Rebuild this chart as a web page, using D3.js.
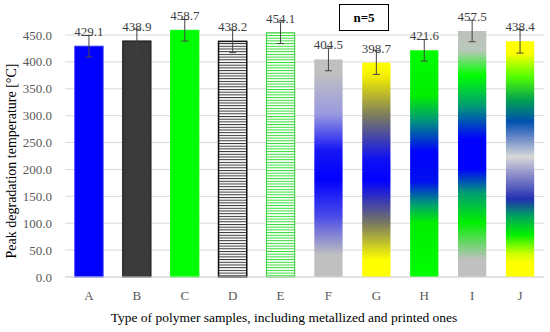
<!DOCTYPE html>
<html>
<head>
<meta charset="utf-8">
<script src="https://cdn.jsdelivr.net/npm/d3@7"></script>
<style>
  body { margin: 0; background: #fff; }
  svg { font-family: "Liberation Serif", "Times New Roman", serif; }
</style>
</head>
<body>
<div id="chart"></div>
<script>
var categories = ["A", "B", "C", "D", "E", "F", "G", "H", "I", "J"];
var values = [429.1, 438.9, 458.7, 438.2, 454.1, 404.5, 398.7, 421.6, 457.5, 438.4];
var errors = [20, 22, 20, 21, 20, 21, 22, 20, 20, 22];
var yTicks = [0, 50, 100, 150, 200, 250, 300, 350, 400, 450];

var margin = { top: 35, right: 6, bottom: 55, left: 65 },
    width = 550 - margin.left - margin.right,
    height = 332 - margin.top - margin.bottom;

var svg = d3.select("#chart")
    .append("svg")
    .attr("width", 550)
    .attr("height", 332);

var defs = svg.append("defs");

// horizontal stripes for D and E
function stripes(id, color, bg) {
    var p = defs.append("pattern")
        .attr("id", id)
        .attr("patternUnits", "userSpaceOnUse")
        .attr("width", 6)
        .attr("height", 2.7);
    p.append("rect").attr("width", 6).attr("height", 2.7).attr("fill", bg);
    p.append("rect").attr("y", 0).attr("width", 6).attr("height", 1).attr("fill", color);
}
stripes("stripeD", "#333", "#fff");
stripes("stripeE", "#33dd33", "#fff");

function gradient(id, stops) {
    var g = defs.append("linearGradient")
        .attr("id", id)
        .attr("x1", 0).attr("y1", 0)
        .attr("x2", 0).attr("y2", 1);
    stops.forEach(function (s) {
        g.append("stop").attr("offset", s[0]).attr("stop-color", s[1]);
    });
}
gradient("gradF", [[0, "#c0c0c0"], [0.06, "#c0c0c0"], [0.25, "#9a9ae0"], [0.42, "#1515f5"], [0.55, "#0000ff"], [0.72, "#4a4ae8"], [0.9, "#c0c0c0"], [1, "#c0c0c0"]]);
gradient("gradG", [[0, "#ffff00"], [0.06, "#f5f000"], [0.25, "#7a7a60"], [0.45, "#1010f5"], [0.55, "#0000ff"], [0.75, "#7a7a60"], [0.92, "#ffff00"], [1, "#ffff00"]]);
gradient("gradH", [[0, "#00ff00"], [0.2, "#00ee00"], [0.3, "#00a070"], [0.45, "#0000ff"], [0.58, "#0010f0"], [0.68, "#00a070"], [0.76, "#00ee00"], [1, "#00ff00"]]);
gradient("gradI", [[0, "#c0c0c0"], [0.08, "#b8c8b8"], [0.18, "#00ff00"], [0.3, "#00a070"], [0.44, "#0000ff"], [0.56, "#0000ff"], [0.66, "#00a070"], [0.78, "#00f000"], [0.93, "#c0c0c0"], [1, "#c0c0c0"]]);
gradient("gradJ", [[0, "#ffff00"], [0.05, "#ffff00"], [0.15, "#55ff00"], [0.25, "#00a050"], [0.34, "#0050b0"], [0.41, "#6a8ac8"], [0.49, "#d8d8d8"], [0.58, "#8080c8"], [0.67, "#2030b0"], [0.74, "#00a060"], [0.82, "#00f000"], [0.9, "#ccff00"], [0.94, "#ffff00"], [1, "#ffff00"]]);

var fills = ["#0000ff", "#3a3a3a", "#00ff00", "url(#stripeD)", "url(#stripeE)",
             "url(#gradF)", "url(#gradG)", "url(#gradH)", "url(#gradI)", "url(#gradJ)"];
var strokes = ["#2a2aff", "#111", "#00ff00", "#111", "#33cc33",
               "none", "none", "none", "none", "none"];

var chart = svg.append("g")
    .attr("transform", "translate(" + margin.left + "," + margin.top + ")");

var x = d3.scaleBand()
    .domain(categories)
    .range([0, width])
    .paddingInner(0.41)
    .paddingOuter(0.205);

var y = d3.scaleLinear()
    .domain([0, 450])
    .range([height, 0]);

// gridlines
chart.selectAll(".grid")
    .data(yTicks)
    .enter()
    .append("line")
    .attr("x1", 0)
    .attr("x2", width)
    .attr("y1", function (d) { return y(d); })
    .attr("y2", function (d) { return y(d); })
    .attr("stroke", "#d9d9d9")
    .attr("stroke-width", 1);

// y tick labels
chart.selectAll(".ytick")
    .data(yTicks)
    .enter()
    .append("text")
    .attr("x", -13)
    .attr("y", function (d) { return y(d); })
    .attr("dy", "0.35em")
    .attr("text-anchor", "end")
    .attr("fill", "#595959")
    .style("font-size", "13px")
    .text(function (d) { return d3.format(".1f")(d); });

// bars
chart.selectAll(".bar")
    .data(values)
    .enter()
    .append("rect")
    .attr("x", function (d, i) { return x(categories[i]); })
    .attr("y", function (d) { return y(d); })
    .attr("width", x.bandwidth())
    .attr("height", function (d) { return height - y(d); })
    .attr("fill", function (d, i) { return fills[i]; })
    .attr("stroke", function (d, i) { return strokes[i]; })
    .attr("stroke-width", function (d, i) { return i == 3 ? 1.5 : 1; });

// error bars
var err = chart.selectAll(".err")
    .data(values)
    .enter()
    .append("g")
    .attr("stroke", "#444")
    .attr("stroke-width", 1);

err.append("line")
    .attr("x1", function (d, i) { return x(categories[i]) + x.bandwidth() / 2; })
    .attr("x2", function (d, i) { return x(categories[i]) + x.bandwidth() / 2; })
    .attr("y1", function (d, i) { return y(d + errors[i]); })
    .attr("y2", function (d, i) { return y(d - errors[i]); });

[1, -1].forEach(function (s) {
    err.append("line")
        .attr("x1", function (d, i) { return x(categories[i]) + x.bandwidth() / 2 - 3.5; })
        .attr("x2", function (d, i) { return x(categories[i]) + x.bandwidth() / 2 + 3.5; })
        .attr("y1", function (d, i) { return y(d + s * errors[i]); })
        .attr("y2", function (d, i) { return y(d + s * errors[i]); });
});

// value labels
chart.selectAll(".val")
    .data(values)
    .enter()
    .append("text")
    .attr("x", function (d, i) { return x(categories[i]) + x.bandwidth() / 2; })
    .attr("y", function (d) { return y(d) - 10; })
    .attr("text-anchor", "middle")
    .attr("fill", "#404040")
    .style("font-size", "13px")
    .text(function (d) { return d3.format(".1f")(d); });

// baseline
chart.append("line")
    .attr("x1", 0)
    .attr("x2", width)
    .attr("y1", height)
    .attr("y2", height)
    .attr("stroke", "#d9d9d9");

// x tick labels
chart.selectAll(".xtick")
    .data(categories)
    .enter()
    .append("text")
    .attr("x", function (d) { return x(d) + x.bandwidth() / 2; })
    .attr("y", height + 23)
    .attr("text-anchor", "middle")
    .attr("fill", "#595959")
    .style("font-size", "13px")
    .text(function (d) { return d; });

// axis titles
svg.append("text")
    .attr("x", 284)
    .attr("y", 322)
    .attr("text-anchor", "middle")
    .attr("fill", "#000")
    .style("font-size", "13.5px")
    .text("Type of polymer samples, including metallized and printed ones");

svg.append("text")
    .attr("transform", "translate(16," + 161 + ") rotate(-90)")
    .attr("text-anchor", "middle")
    .attr("fill", "#000")
    .style("font-size", "14px")
    .text("Peak degradation temperature [°C]");

// n=5 box
svg.append("rect")
    .attr("x", 339.5)
    .attr("y", 4.5)
    .attr("width", 49)
    .attr("height", 26)
    .attr("fill", "#fff")
    .attr("stroke", "#000")
    .attr("stroke-width", 1);

svg.append("text")
    .attr("x", 364)
    .attr("y", 22)
    .attr("text-anchor", "middle")
    .attr("font-weight", "bold")
    .style("font-size", "13px")
    .text("n=5");
</script>
</body>
</html>
